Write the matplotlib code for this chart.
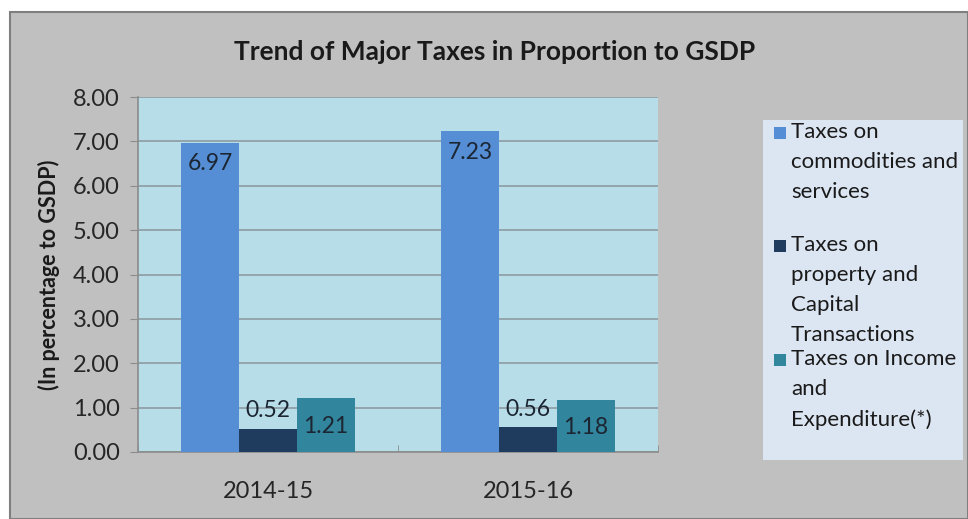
import matplotlib
matplotlib.use("Agg")
import matplotlib.pyplot as plt
from matplotlib.patches import Rectangle
import numpy as np

categories = ["2014-15", "2015-16"]
series_names = ["Taxes on\ncommodities and\nservices",
                "Taxes on\nproperty and\nCapital\nTransactions",
                "Taxes on Income\nand\nExpenditure(*)"]
commodities = [6.97, 7.23]
property_capital = [0.52, 0.56]
income_expenditure = [1.21, 1.18]
yticks = [0, 1, 2, 3, 4, 5, 6, 7, 8]

colors = ["#558ED5", "#1F3B5E", "#31859C"]
label_offsets = [-15, 13, -20]  # points

FONT = ["Lato", "DejaVu Sans"]
plt.rcParams['font.family'] = FONT

W, H = 968, 519
fig = plt.figure(figsize=(W / 100, H / 100), dpi=100)
fig.patch.set_facecolor("white")

# chart background with border
bg = Rectangle((10 / W, 0), 1 - 10 / W, 1 - 12 / H, transform=fig.transFigure,
               facecolor="#C0C0C0", edgecolor="#7F7F7F", linewidth=1.5, zorder=-5)
fig.patches.append(bg)

ax = fig.add_axes([138 / W, 1 - 452 / H, 520 / W, 355 / H])
ax.set_zorder(5)
ax.set_facecolor("#B7DEE8")

x = np.arange(len(categories))
width = 0.222
all_series = [commodities, property_capital, income_expenditure]
for i, (vals, c, off) in enumerate(zip(all_series, colors, label_offsets)):
    xs = x + (i - 1) * width
    ax.bar(xs, vals, width=width, color=c, zorder=3)
    for xi, v in zip(xs, vals):
        ax.annotate(f"{v:.2f}", (xi, v), xytext=(0, off), textcoords="offset points",
                    ha="center", va="center", fontsize=16.5, color="#1C2633", zorder=4)

ax.set_xlim(-0.5, 1.5)
ax.set_ylim(0, 8)
ax.set_yticks(yticks)
ax.set_yticklabels([f"{t:.2f}" for t in yticks], fontsize=17, color="#262626")
ax.yaxis.grid(True, color="#8C9BA3", linewidth=1.2, zorder=1)
ax.set_axisbelow(True)

ax.set_xticks(x)
ax.set_xticklabels(categories, fontsize=17, color="#262626")
ax.tick_params(axis="x", length=0, pad=21)
ax.set_xticks([-0.5, 0.5, 1.5], minor=True)
ax.tick_params(axis="x", which="minor", length=5, direction="in", color="#8C8C8C")
ax.tick_params(axis="y", length=6, color="#8C8C8C", pad=7)

for s in ["top", "right"]:
    ax.spines[s].set_visible(False)
for s in ["left", "bottom"]:
    ax.spines[s].set_color("#8C8C8C")
    ax.spines[s].set_linewidth(1.2)

ax.set_ylabel("(In percentage to GSDP)", fontsize=15.5, fontweight="bold",
              color="#1A1A1A", labelpad=9)

fig.text(495 / W, 1 - 52 / H, "Trend of Major Taxes in Proportion to GSDP",
         ha="center", va="center", fontsize=19, fontweight="bold", color="#1A1A1A")

# legend box
lg = Rectangle((763 / W, 1 - 460 / H), 200 / W, 340 / H, transform=fig.transFigure,
               facecolor="#DCE6F2", edgecolor="none", zorder=1)
fig.patches.append(lg)
entry_y = [133, 246, 360]
for name, c, yy in zip(series_names, colors, entry_y):
    fig.patches.append(Rectangle((774 / W, 1 - (yy + 6) / H), 12 / W, 12 / H,
                                 transform=fig.transFigure, facecolor=c,
                                 edgecolor="none", zorder=2))
    fig.text(791 / W, 1 - (yy - 11) / H, name, ha="left", va="top", fontsize=16,
             color="#1A1A1A", linespacing=1.62, zorder=3)

fig.savefig("out.png", dpi=100, facecolor=fig.get_facecolor())
